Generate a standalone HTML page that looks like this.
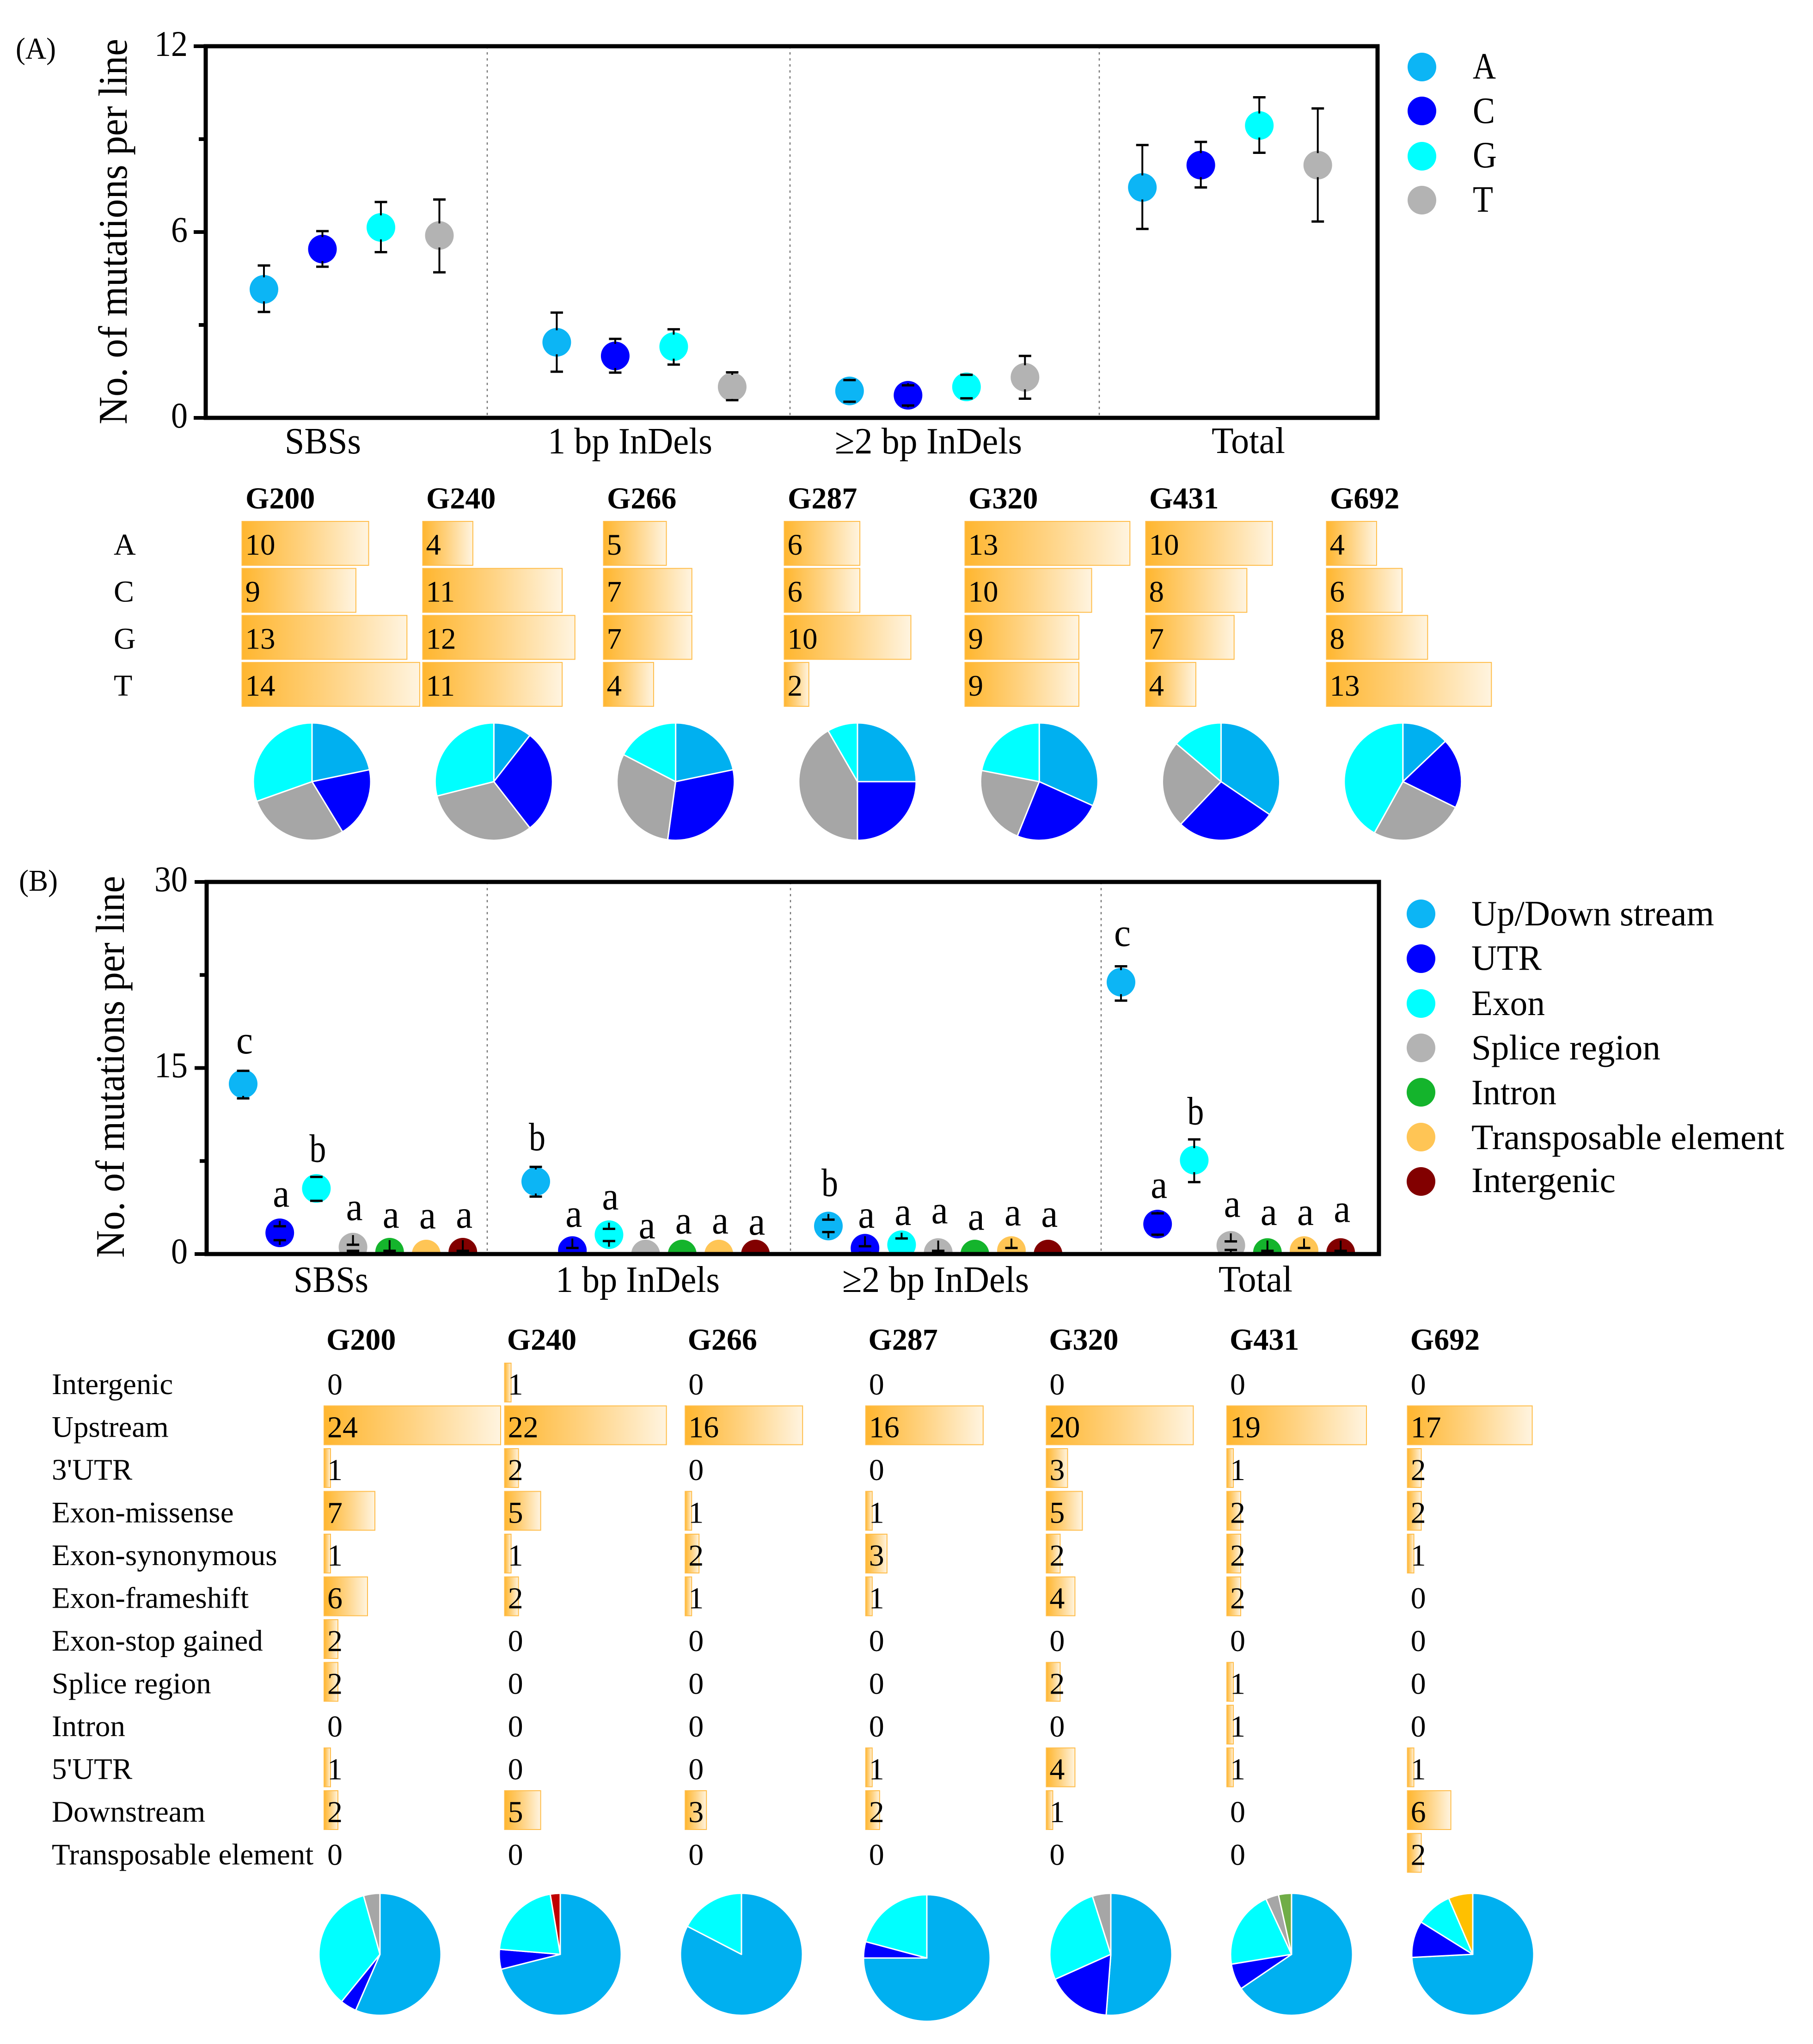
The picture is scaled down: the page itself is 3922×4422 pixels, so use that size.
<!DOCTYPE html>
<html lang="en">
<head>
<meta charset="utf-8">
<title>Mutations per line</title>
<style>
html,body{margin:0;padding:0;background:#fff;width:3922px;height:4422px;overflow:hidden}
svg{display:block;font-family:"Liberation Serif","Times New Roman",serif;fill:#000}
</style>
</head>
<body>
<svg id="fig" xmlns="http://www.w3.org/2000/svg" width="3922" height="4422" viewBox="0 0 3922 4422">
<defs>
<linearGradient id="bar-grad" x1="0" x2="1" y1="0" y2="0"><stop offset="0" stop-color="#FFB62F"/><stop offset="0.5" stop-color="#FFD383"/><stop offset="1" stop-color="#FFF4E0"/></linearGradient>
<clipPath id="clip-b"><rect x="447" y="1908" width="2536" height="805"/></clipPath>
</defs>
<rect width="3922" height="4422" fill="#fff"/>

<text x="34" y="127" font-size="66" textLength="87" lengthAdjust="spacingAndGlyphs">(A)</text>
<text x="41" y="1927" font-size="66" textLength="84" lengthAdjust="spacingAndGlyphs">(B)</text>

<text transform="translate(274,918) rotate(-90)" font-size="88" textLength="834" lengthAdjust="spacingAndGlyphs">No. of mutations per line</text>
<text transform="translate(268,2721) rotate(-90)" font-size="88" textLength="826" lengthAdjust="spacingAndGlyphs">No. of mutations per line</text>

<text x="616" y="981" font-size="80" textLength="165" lengthAdjust="spacingAndGlyphs">SBSs</text>
<text x="1185" y="981" font-size="80" textLength="356" lengthAdjust="spacingAndGlyphs">1 bp InDels</text>
<text x="1806" y="981" font-size="80" textLength="405" lengthAdjust="spacingAndGlyphs">≥2 bp InDels</text>
<text x="2621" y="980" font-size="80" textLength="159" lengthAdjust="spacingAndGlyphs">Total</text>

<text x="635" y="2795" font-size="80" textLength="162" lengthAdjust="spacingAndGlyphs">SBSs</text>
<text x="1202" y="2795" font-size="80" textLength="355" lengthAdjust="spacingAndGlyphs">1 bp InDels</text>
<text x="1822" y="2795" font-size="80" textLength="404" lengthAdjust="spacingAndGlyphs">≥2 bp InDels</text>
<text x="2636" y="2794" font-size="80" textLength="160" lengthAdjust="spacingAndGlyphs">Total</text>

<g>
<circle cx="3076" cy="145" r="31" fill="#0CB5F5"/>
<circle cx="3076" cy="240" r="31" fill="#0000FF"/>
<circle cx="3076" cy="338" r="31" fill="#00FFFF"/>
<circle cx="3076" cy="433" r="31" fill="#B3B3B3"/>
<text x="3186" y="170" font-size="80" textLength="50" lengthAdjust="spacingAndGlyphs">A</text>
<text x="3186" y="266" font-size="80" textLength="48" lengthAdjust="spacingAndGlyphs">C</text>
<text x="3186" y="362" font-size="80" textLength="52" lengthAdjust="spacingAndGlyphs">G</text>
<text x="3186" y="458" font-size="80" textLength="44" lengthAdjust="spacingAndGlyphs">T</text>
</g>

<g>
<circle cx="3074" cy="1977" r="31" fill="#0CB5F5"/>
<circle cx="3074" cy="2074" r="31" fill="#0000FF"/>
<circle cx="3074" cy="2171" r="31" fill="#00FFFF"/>
<circle cx="3074" cy="2267" r="31" fill="#B3B3B3"/>
<circle cx="3074" cy="2363" r="31" fill="#14B42C"/>
<circle cx="3074" cy="2460" r="31" fill="#FFC555"/>
<circle cx="3074" cy="2556" r="31" fill="#820000"/>
<text x="3183" y="2002" font-size="77" textLength="525" lengthAdjust="spacingAndGlyphs">Up/Down stream</text>
<text x="3183" y="2098" font-size="77" textLength="152" lengthAdjust="spacingAndGlyphs">UTR</text>
<text x="3183" y="2196" font-size="77" textLength="159" lengthAdjust="spacingAndGlyphs">Exon</text>
<text x="3183" y="2292" font-size="77" textLength="409" lengthAdjust="spacingAndGlyphs">Splice region</text>
<text x="3183" y="2389" font-size="77" textLength="184" lengthAdjust="spacingAndGlyphs">Intron</text>
<text x="3183" y="2486" font-size="77" textLength="677" lengthAdjust="spacingAndGlyphs">Transposable element</text>
<text x="3183" y="2579" font-size="77" textLength="312" lengthAdjust="spacingAndGlyphs">Intergenic</text>
</g>

<g id="layer-a"></g>
<g id="layer-b"></g>
<g id="layer-ta"></g>
<g id="layer-tb"></g>
</svg>

<script>
// ---- Panel A scatter data (groups: SBSs, 1 bp InDels, >=2 bp InDels, Total)
const meanA = [4.15, 2.44, 0.87, 7.44];
const hiA   = [4.92, 3.40, 1.22, 8.81];
const loA   = [3.42, 1.49, 0.52, 6.10];
const meanC = [5.45, 2.00, 0.73, 8.16];
const hiC   = [6.03, 2.55, 1.05, 8.91];
const loC   = [4.88, 1.46, 0.40, 7.44];
const meanG = [6.15, 2.30, 1.00, 9.44];
const hiG   = [6.97, 2.86, 1.39, 10.35];
const loG   = [5.35, 1.72, 0.63, 8.56];
const meanT = [5.89, 1.00, 1.31, 8.16];
const hiT   = [7.05, 1.47, 2.00, 9.99];
const loT   = [4.70, 0.57, 0.62, 6.34];
const ticksA = [0, 6, 12];
const minorTicksA = [3, 9];

// ---- Panel B scatter data
const meanUp = [13.72, 5.85, 2.26, 21.92];
const hiUp   = [14.77, 7.03, 2.77, 23.20];
const loUp   = [12.55, 4.63, 1.77, 20.43];
const meanUtr = [1.71, 0.28, 0.47, 2.42];
const hiUtr   = [2.24, 0.49, 0.63, 3.28];
const loUtr   = [1.12, 0.00, 0.10, 1.56];
const meanExon = [5.29, 1.56, 0.75, 7.57];
const hiExon   = [6.22, 2.03, 1.26, 9.24];
const loExon   = [4.29, 1.05, 0.00, 5.80];
const meanSplice = [0.56, 0.00, 0.12, 0.70];
const hiSplice   = [0.75, 0.00, 0.26, 1.02];
const loSplice   = [0.26, 0.00, 0.00, 0.33];
const meanIntron = [0.15, 0.00, 0.00, 0.12];
const hiIntron   = [0.26, 0.00, 0.00, 0.26];
const loIntron   = [0.00, 0.00, 0.00, 0.00];
const meanTrans = [0.00, 0.00, 0.28, 0.28];
const hiTrans   = [0.00, 0.00, 0.49, 0.49];
const loTrans   = [0.00, 0.00, 0.00, 0.00];
const meanInter = [0.15, 0.00, 0.00, 0.12];
const hiInter   = [0.26, 0.00, 0.00, 0.26];
const loInter   = [0.00, 0.00, 0.00, 0.00];
const ticksB = [0, 15, 30];
const minorTicksB = [7.5, 22.5];
const lettersUp = ['c', 'b', 'b', 'c'];
const lettersUtr = ['a', 'a', 'a', 'a'];
const lettersExon = ['b', 'a', 'a', 'b'];
const lettersOther = ['a', 'a', 'a', 'a'];
const letterLevelUp = [16.17, 8.36, 4.68, 24.83];
const letterLevelUtr = [3.82, 2.19, 2.12, 4.52];
const letterLevelExon = [7.43, 3.59, 2.35, 10.46];
const letterLevelSplice = [2.73, 1.26, 2.47, 3.00];
const letterLevelIntron = [2.12, 1.65, 1.96, 2.35];
const letterLevelTrans = [2.07, 1.65, 2.31, 2.35];
const letterLevelInter = [2.12, 1.56, 2.19, 2.59];

// ---- Panel A table (rows: A, C, G, T)
const lines = ['G200', 'G240', 'G266', 'G287', 'G320', 'G431', 'G692'];
const rowsA = ['A', 'C', 'G', 'T'];
const baseG200 = [10, 9, 13, 14];
const baseG240 = [4, 11, 12, 11];
const baseG266 = [5, 7, 7, 4];
const baseG287 = [6, 6, 10, 2];
const baseG320 = [13, 10, 9, 9];
const baseG431 = [10, 8, 7, 4];
const baseG692 = [4, 6, 8, 13];

// ---- Panel B table
const rowsB = ['Intergenic', 'Upstream', "3'UTR", 'Exon-missense', 'Exon-synonymous', 'Exon-frameshift', 'Exon-stop gained', 'Splice region', 'Intron', "5'UTR", 'Downstream', 'Transposable element'];
const siteG200 = [0, 24, 1, 7, 1, 6, 2, 2, 0, 1, 2, 0];
const siteG240 = [1, 22, 2, 5, 1, 2, 0, 0, 0, 0, 5, 0];
const siteG266 = [0, 16, 0, 1, 2, 1, 0, 0, 0, 0, 3, 0];
const siteG287 = [0, 16, 0, 1, 3, 1, 0, 0, 0, 1, 2, 0];
const siteG320 = [0, 20, 3, 5, 2, 4, 0, 2, 0, 4, 1, 0];
const siteG431 = [0, 19, 1, 2, 2, 2, 0, 1, 1, 1, 0, 0];
const siteG692 = [0, 17, 2, 2, 1, 0, 0, 0, 0, 1, 6, 2];

const NS = 'http://www.w3.org/2000/svg';
function make(parent, tag, attrs, name) {
  const el = document.createElementNS(NS, tag);
  for (const k in attrs) el.setAttribute(k, attrs[k]);
  
  
  parent.appendChild(el);
  return el;
}
function label(parent, x, y, str, size, name, extra) {
  const el = make(parent, 'text', Object.assign({x: x, y: y, 'font-size': size}, extra || {}), name);
  el.textContent = str;
  return el;
}

// ---- Generic framed axes
function frame(layer, key, L, T, R, B, yScale, majors, minors, dividers, tickBaseline) {
  dividers.forEach(function (dx, i) {
    make(layer, 'line', {x1: dx, x2: dx, y1: T, y2: B + 4, stroke: '#777', 'stroke-width': 2.5, 'stroke-dasharray': '5 8'}, key + '-divider-' + i);
  });
  make(layer, 'rect', {x: L, y: T, width: R - L, height: B - T, fill: 'none', stroke: '#000', 'stroke-width': 9}, key + '-frame');
  majors.forEach(function (v) {
    const y = yScale(v);
    make(layer, 'line', {x1: L - 26, x2: L, y1: y, y2: y, stroke: '#000', 'stroke-width': 8}, key + '-tick-' + v);
    label(layer, 406, y + tickBaseline, String(v), 78, key + '-tick-label-' + v, {'text-anchor': 'end', textLength: String(v).length * 36, lengthAdjust: 'spacingAndGlyphs'});
  });
  minors.forEach(function (v) {
    const y = yScale(v);
    make(layer, 'line', {x1: L - 15, x2: L, y1: y, y2: y, stroke: '#000', 'stroke-width': 8}, key + '-minor-tick-' + v);
  });
}

// ---- Marker with Origin-style error bar: stems run from the marker's edge to the cap
function point(layer, name, x, value, hi, lo, color, yScale) {
  const cy = yScale(value);
  const gap = 26;
  make(layer, 'circle', {cx: x, cy: cy, r: 31, fill: color}, name + '-marker');
  if (hi > value) {
    const yh = yScale(hi);
    make(layer, 'line', {x1: x, x2: x, y1: cy - gap, y2: yh, stroke: '#000', 'stroke-width': 4}, name + '-error-upper');
    make(layer, 'line', {x1: x - 13.5, x2: x + 13.5, y1: yh, y2: yh, stroke: '#000', 'stroke-width': 5}, name + '-cap-upper');
  }
  if (lo < value) {
    const yl = yScale(lo);
    make(layer, 'line', {x1: x, x2: x, y1: cy + gap, y2: yl, stroke: '#000', 'stroke-width': 4}, name + '-error-lower');
    make(layer, 'line', {x1: x - 13.5, x2: x + 13.5, y1: yl, y2: yl, stroke: '#000', 'stroke-width': 5}, name + '-cap-lower');
  }
}

// ---- Panel A plot
const yA = function (v) { return 904 - v * (804 / 12); };
const xA = function (g, i) { return 571 + g * 633.4 + i * 126.5; };
const layerA = document.getElementById('layer-a');
frame(layerA, 'panel-a', 445, 100, 2980, 904, yA, ticksA, minorTicksA, [1054, 1709, 2378], 21);
const seriesA = [
  {id: 'a', m: meanA, h: hiA, l: loA, c: '#0CB5F5'},
  {id: 'c', m: meanC, h: hiC, l: loC, c: '#0000FF'},
  {id: 'g', m: meanG, h: hiG, l: loG, c: '#00FFFF'},
  {id: 't', m: meanT, h: hiT, l: loT, c: '#B3B3B3'}
];
seriesA.forEach(function (s, i) {
  s.m.forEach(function (v, g) {
    point(layerA, 'a-' + s.id + '-g' + g, xA(g, i), v, s.h[g], s.l[g], s.c, yA);
  });
});

// ---- Panel B plot
const yB = function (v) { return 2713 - v * (805 / 30); };
const xB = function (g, i) { return 526 + g * 633 + i * 79.2; };
const layerB = document.getElementById('layer-b');
const clipB = make(layerB, 'g', {'clip-path': 'url(#clip-b)'}, 'panel-b-points');
const seriesB = [
  {id: 'updown', m: meanUp, h: hiUp, l: loUp, c: '#0CB5F5', t: lettersUp, p: letterLevelUp},
  {id: 'utr', m: meanUtr, h: hiUtr, l: loUtr, c: '#0000FF', t: lettersUtr, p: letterLevelUtr},
  {id: 'exon', m: meanExon, h: hiExon, l: loExon, c: '#00FFFF', t: lettersExon, p: letterLevelExon},
  {id: 'splice', m: meanSplice, h: hiSplice, l: loSplice, c: '#B3B3B3', t: lettersOther, p: letterLevelSplice},
  {id: 'intron', m: meanIntron, h: hiIntron, l: loIntron, c: '#14B42C', t: lettersOther, p: letterLevelIntron},
  {id: 'trans', m: meanTrans, h: hiTrans, l: loTrans, c: '#FFC555', t: lettersOther, p: letterLevelTrans},
  {id: 'inter', m: meanInter, h: hiInter, l: loInter, c: '#820000', t: lettersOther, p: letterLevelInter}
];
seriesB.forEach(function (s, i) {
  s.m.forEach(function (v, g) {
    point(clipB, 'b-' + s.id + '-g' + g, xB(g, i), v, s.h[g], s.l[g], s.c, yB);
    label(layerB, xB(g, i) + 3, yB(s.p[g]), s.t[g], 86, 'b-' + s.id + '-g' + g + '-significance', {'text-anchor': 'middle', textLength: 36, lengthAdjust: 'spacingAndGlyphs'});
  });
});
frame(layerB, 'panel-b', 447, 1908, 2983, 2713, yB, ticksB, minorTicksB, [1054, 1710, 2382], 20);

// ---- Bars and pies
function bars(layer, key, values, rowNames, x0, top0, pitch, h, unit, fs, baseOff, textOff) {
  values.forEach(function (v, i) {
    const top = top0 + i * pitch;
    if (v > 0) {
      make(layer, 'rect', {x: x0 + 1, y: top + 1, width: Math.max(v * unit - 2, 1), height: h - 2, fill: 'url(#bar-grad)', stroke: '#FFBD4A', 'stroke-width': 2}, key + '-bar-' + rowNames[i]);
    }
    label(layer, x0 + textOff, top + baseOff, String(v), fs, key + '-value-' + rowNames[i]);
  });
}
function pie(layer, key, values, colors, cx, cy, r) {
  const total = values.reduce(function (a, b) { return a + b; }, 0);
  let acc = 0;
  values.forEach(function (v, i) {
    if (v <= 0) return;
    const a0 = acc / total * 2 * Math.PI;
    acc += v;
    const a1 = acc / total * 2 * Math.PI;
    const x0 = cx + r * Math.sin(a0), y0 = cy - r * Math.cos(a0);
    const x1 = cx + r * Math.sin(a1), y1 = cy - r * Math.cos(a1);
    const large = a1 - a0 > Math.PI ? 1 : 0;
    const d = 'M' + cx + ' ' + cy + 'L' + x0.toFixed(2) + ' ' + y0.toFixed(2) + 'A' + r + ' ' + r + ' 0 ' + large + ' 1 ' + x1.toFixed(2) + ' ' + y1.toFixed(2) + 'Z';
    make(layer, 'path', {d: d, fill: colors[i], stroke: '#fff', 'stroke-width': 3, 'stroke-linejoin': 'round'}, key + '-slice-' + i);
  });
}

// Panel A table. Pie slices clockwise follow the table rows.
const layerTA = document.getElementById('layer-ta');
const baseColumns = [baseG200, baseG240, baseG266, baseG287, baseG320, baseG431, baseG692];
const barX_A = function (c) { return 522.5 + c * 391; };
const pieX_A = function (c) { return 675 + c * 393.3; };
const headX_A = function (c) { return 531 + c * 391; };
const pieColorsA = ['#00B0F0', '#0000FF', '#A6A6A6', '#00FFFF'];
rowsA.forEach(function (r, i) {
  label(layerTA, 246, 1200 + i * 101.7, r, 66, 'panel-a-row-label-' + r);
});
lines.forEach(function (name, c) {
  label(layerTA, headX_A(c), 1100, name, 66, 'panel-a-header-' + name, {'font-weight': 'bold'});
  bars(layerTA, 'panel-a-' + name, baseColumns[c], rowsA, barX_A(c), 1127, 101.7, 97, 27.6, 65, 73, 8);
  pie(layerTA, 'panel-a-pie-' + name, baseColumns[c], pieColorsA, pieX_A(c), 1691, 127);
});

// Panel B table. Pie slices group rows into site classes.
const layerTB = document.getElementById('layer-tb');
const siteColumns = [siteG200, siteG240, siteG266, siteG287, siteG320, siteG431, siteG692];
const barX_B = function (c) { return 700 + c * 390.6; };
const headX_B = function (c) { return 706 + c * 390.8; };
const pieGroups = [[1, 10], [2, 9], [3, 4, 5, 6], [7], [8], [11], [0]];
const pieColorsB = ['#00B0F0', '#0000FF', '#00FFFF', '#A6A6A6', '#70AD47', '#FFC000', '#C00000'];
const pieLayoutX = [822, 1212, 1604, 2005, 2403, 2794, 3186];
const pieLayoutY = [4228, 4228, 4228, 4236, 4228, 4228, 4228];
const pieLayoutR = [132, 132, 132, 137, 132, 132, 132];
rowsB.forEach(function (r, i) {
  label(layerTB, 112, 3016 + i * 92.5, r, 65, 'panel-b-row-label-' + i);
});
lines.forEach(function (name, c) {
  label(layerTB, headX_B(c), 2920, name, 66, 'panel-b-header-' + name, {'font-weight': 'bold'});
  bars(layerTB, 'panel-b-' + name, siteColumns[c], rowsB.map(function (r, i) { return 'row' + i; }), barX_B(c), 2948, 92.5, 86, 16, 66, 69, 8);
  const slices = pieGroups.map(function (g) {
    return g.reduce(function (a, i) { return a + siteColumns[c][i]; }, 0);
  });
  pie(layerTB, 'panel-b-pie-' + name, slices, pieColorsB, pieLayoutX[c], pieLayoutY[c], pieLayoutR[c]);
});
</script>
</body>
</html>
